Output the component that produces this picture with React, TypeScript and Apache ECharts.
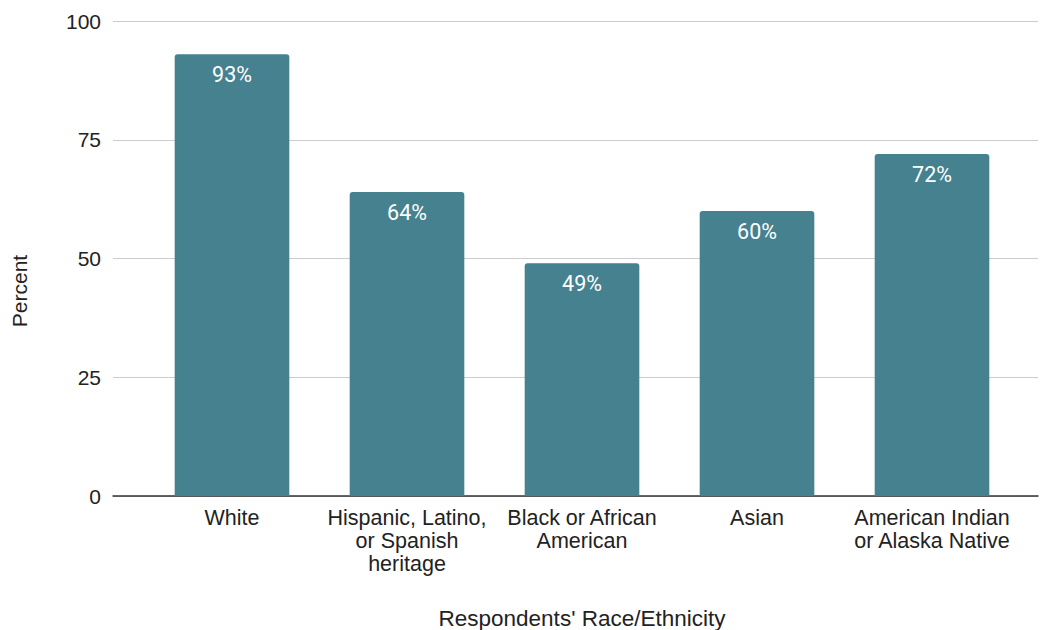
import React, { useEffect, useRef } from "react";
import * as echarts from "echarts";

const categories = [
  "White",
  "Hispanic, Latino, or Spanish heritage",
  "Black or African American",
  "Asian",
  "American Indian or Alaska Native",
];
const categoryLines = [
  "White",
  "Hispanic, Latino,\nor Spanish\nheritage",
  "Black or African\nAmerican",
  "Asian",
  "American Indian\nor Alaska Native",
];
const percentValues = [93, 64, 49, 60, 72];
const yTicks = [0, 25, 50, 75, 100];
const xAxisTitle = "Respondents' Race/Ethnicity";
const yAxisTitle = "Percent";

export default function App() {
  const ref = useRef<HTMLDivElement>(null);
  useEffect(() => {
    document.body.style.margin = "0";
    const chart = echarts.init(ref.current!, null, { renderer: "svg" });
    const font = "'Liberation Sans', Arial, sans-serif";
    const gridTop = 21;
    const gridBottom = 134;
    chart.setOption({
      animation: false,
      backgroundColor: "#ffffff",
      grid: [
        { left: 113, right: 2, top: gridTop, bottom: gridBottom, outerBoundsMode: "none", containLabel: false },
        { left: 144.5, right: 20.5, top: gridTop, bottom: gridBottom, outerBoundsMode: "none", containLabel: false },
      ],
      xAxis: [
        {
          gridIndex: 0,
          type: "category",
          data: [""],
          axisLine: { show: true, lineStyle: { color: "#333333", width: 1.5 } },
          axisTick: { show: false },
          axisLabel: { show: false },
        },
        {
          gridIndex: 1,
          type: "category",
          data: categories,
          axisLine: { show: false },
          axisTick: { show: false },
          axisLabel: {
            interval: 0,
            margin: 10,
            color: "#222222",
            fontFamily: font,
            fontSize: 21.5,
            lineHeight: 23,
            formatter: (_v: string, i: number) => categoryLines[i],
          },
          name: xAxisTitle,
          nameLocation: "middle",
          nameGap: 111,
          nameTextStyle: { color: "#222222", fontFamily: font, fontSize: 22.5 },
        },
      ],
      yAxis: [
        {
          gridIndex: 0,
          type: "value",
          min: yTicks[0],
          max: yTicks[yTicks.length - 1],
          interval: 25,
          axisLine: { show: false },
          axisTick: { show: false },
          axisLabel: {
            color: "#222222",
            fontFamily: font,
            fontSize: 21,
            margin: 12,
          },
          splitLine: { lineStyle: { color: "#cccccc", width: 1 } },
        },
        {
          gridIndex: 1,
          type: "value",
          min: yTicks[0],
          max: yTicks[yTicks.length - 1],
          interval: 25,
          show: false,
          splitLine: { show: false },
        },
      ],
      graphic: [
        {
          type: "text",
          x: 19,
          y: 291,
          rotation: Math.PI / 2,
          style: {
            text: yAxisTitle,
            align: "center",
            verticalAlign: "middle",
            fill: "#222222",
            font: `21px ${font}`,
          },
        },
      ],
      series: [
        {
          type: "bar",
          xAxisIndex: 1,
          yAxisIndex: 1,
          data: percentValues,
          barWidth: "65.5%",
          itemStyle: { color: "#45818e", borderRadius: [3, 3, 0, 0] },
          label: {
            show: true,
            position: "insideTop",
            distance: 9,
            color: "#ffffff",
            fontFamily: "Roboto, sans-serif",
            fontWeight: "normal",
            fontSize: 21.5,
            formatter: (p: any) => `${p.value}%`,
          },
        },
      ],
    });
    return () => chart.dispose();
  }, []);
  return <div ref={ref} style={{ width: 1040, height: 630 }} />;
}
